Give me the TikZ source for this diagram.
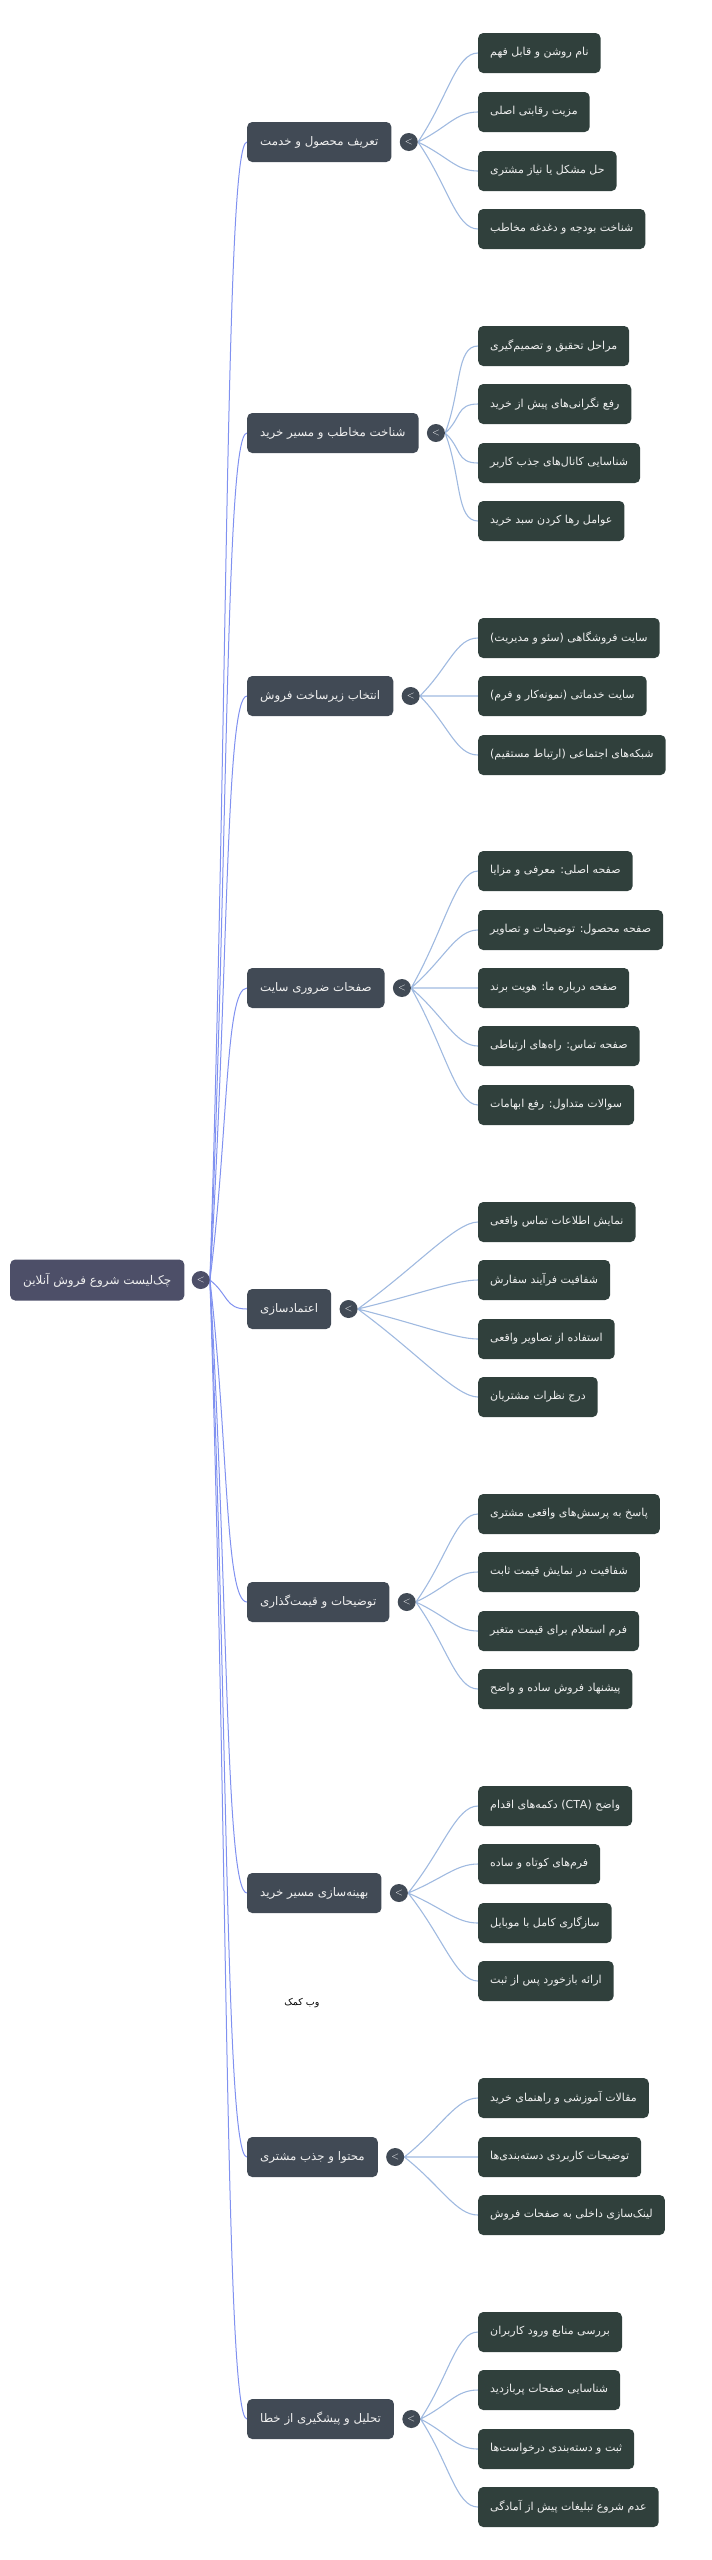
\documentclass[tikz,border=0pt]{standalone}
\usepackage{fontspec}
\usepackage{tikz}
\usetikzlibrary{positioning, calc, backgrounds}
\TeXXeTstate=1
\newfontfamily\fa[Script=Arabic]{DejaVu Sans}
\newcommand{\rl}[1]{\beginR #1\endR}
\definecolor{rootgray}{RGB}{77, 79, 104}
\definecolor{grpgray}{RGB}{65, 74, 85}
\definecolor{itemgreen}{RGB}{48, 64, 60}
\definecolor{rootline}{RGB}{128, 145, 240}
\definecolor{itemline}{RGB}{160, 186, 224}

\begin{document}
\begin{tikzpicture}[x=1pt, y=-1pt, font=\fa\fontsize{11}{13}\selectfont,
    b/.style={rounded corners=5pt, text=white!94!black, inner xsep=12pt, minimum height=40pt, anchor=west},
    top/.style={b, fill=rootgray, minimum height=41pt, inner xsep=13pt, font=\fa\fontsize{12}{14}\selectfont},
    grp/.style={b, fill=grpgray, inner xsep=13pt, font=\fa\fontsize{11.8}{14}\selectfont},
    item/.style={b, fill=itemgreen},
    knob/.style={circle, fill=#1, text=white, inner sep=0pt, minimum size=18pt, font=\sffamily\normalsize},
    curvy/.style={to path={.. controls ($(\tikztostart)!0.5!(\tikztotarget)$) and ($(\tikztotarget)+(-22,0)$) .. (\tikztotarget)}},
    rlink/.style={curvy, draw=rootline, line width=1pt},
    ilink/.style={curvy, draw=itemline, line width=1.1pt}]
  \useasboundingbox (0,0) rectangle (712,2560);
  % root
  \node[top] (root) at (10, 1280) {\rl{چک‌لیست شروع فروش آنلاین}};
  \node[knob=rootgray, right=7pt of root] (kr) {<};
  % groups
  \node[grp] (g1) at (247, 142) {\rl{تعریف محصول و خدمت}};
  \node[grp] (g2) at (247, 433) {\rl{شناخت مخاطب و مسیر خرید}};
  \node[grp] (g3) at (247, 696) {\rl{انتخاب زیرساخت فروش}};
  \node[grp] (g4) at (247, 988) {\rl{صفحات ضروری سایت}};
  \node[grp] (g5) at (247, 1309) {\rl{اعتمادسازی}};
  \node[grp] (g6) at (247, 1602) {\rl{توضیحات و قیمت‌گذاری}};
  \node[grp] (g7) at (247, 1893) {\rl{بهینه‌سازی مسیر خرید}};
  \node[grp] (g8) at (247, 2157) {\rl{محتوا و جذب مشتری}};
  \node[grp] (g9) at (247, 2419) {\rl{تحلیل و پیشگیری از خطا}};
  \foreach \g in {1,...,9}
    \node[knob=grpgray, right=8pt of g\g] (k\g) {<};
  % items
  \node[item] (a1) at (478, 53) {\rl{نام روشن و قابل فهم}};
  \node[item] (a2) at (478, 112) {\rl{مزیت رقابتی اصلی}};
  \node[item] (a3) at (478, 171) {\rl{حل مشکل یا نیاز مشتری}};
  \node[item] (a4) at (478, 229) {\rl{شناخت بودجه و دغدغه مخاطب}};
  \node[item] (b1) at (478, 346) {\rl{مراحل تحقیق و تصمیم‌گیری}};
  \node[item] (b2) at (478, 404) {\rl{رفع نگرانی‌های پیش از خرید}};
  \node[item] (b3) at (478, 463) {\rl{شناسایی کانال‌های جذب کاربر}};
  \node[item] (b4) at (478, 521) {\rl{عوامل رها کردن سبد خرید}};
  \node[item] (c1) at (478, 638) {\rl{سایت فروشگاهی (سئو و مدیریت)}};
  \node[item] (c2) at (478, 696) {\rl{سایت خدماتی (نمونه‌کار و فرم)}};
  \node[item] (c3) at (478, 755) {\rl{شبکه‌های اجتماعی (ارتباط مستقیم)}};
  \node[item] (d1) at (478, 871) {\rl{صفحه اصلی: معرفی و مزایا}};
  \node[item] (d2) at (478, 930) {\rl{صفحه محصول: توضیحات و تصاویر}};
  \node[item] (d3) at (478, 988) {\rl{صفحه درباره ما: هویت برند}};
  \node[item] (d4) at (478, 1046) {\rl{صفحه تماس: راه‌های ارتباطی}};
  \node[item] (d5) at (478, 1105) {\rl{سوالات متداول: رفع ابهامات}};
  \node[item] (e1) at (478, 1222) {\rl{نمایش اطلاعات تماس واقعی}};
  \node[item] (e2) at (478, 1280) {\rl{شفافیت فرآیند سفارش}};
  \node[item] (e3) at (478, 1339) {\rl{استفاده از تصاویر واقعی}};
  \node[item] (e4) at (478, 1397) {\rl{درج نظرات مشتریان}};
  \node[item] (f1) at (478, 1514) {\rl{پاسخ به پرسش‌های واقعی مشتری}};
  \node[item] (f2) at (478, 1572) {\rl{شفافیت در نمایش قیمت ثابت}};
  \node[item] (f3) at (478, 1631) {\rl{فرم استعلام برای قیمت متغیر}};
  \node[item] (f4) at (478, 1689) {\rl{پیشنهاد فروش ساده و واضح}};
  \node[item] (h1) at (478, 1806) {\rl{واضح \beginL(CTA)\endL{} دکمه‌های اقدام}};
  \node[item] (h2) at (478, 1864) {\rl{فرم‌های کوتاه و ساده}};
  \node[item] (h3) at (478, 1923) {\rl{سازگاری کامل با موبایل}};
  \node[item] (h4) at (478, 1981) {\rl{ارائه بازخورد پس از ثبت}};
  \node[item] (m1) at (478, 2098) {\rl{مقالات آموزشی و راهنمای خرید}};
  \node[item] (m2) at (478, 2157) {\rl{توضیحات کاربردی دسته‌بندی‌ها}};
  \node[item] (m3) at (478, 2215) {\rl{لینک‌سازی داخلی به صفحات فروش}};
  \node[item] (n1) at (478, 2332) {\rl{بررسی منابع ورود کاربران}};
  \node[item] (n2) at (478, 2390) {\rl{شناسایی صفحات پربازدید}};
  \node[item] (n3) at (478, 2449) {\rl{ثبت و دسته‌بندی درخواست‌ها}};
  \node[item] (n4) at (478, 2507) {\rl{عدم شروع تبلیغات پیش از آمادگی}};
  \node[font=\fa\fontsize{9.5}{11}\selectfont] (note) at (302, 2003) {\rl{وب کمک}};
  % links
  \begin{scope}[on background layer]
    \foreach \g in {1,...,9}
      \draw[rlink] (kr.east) to (g\g.west);
    \draw[ilink] (k1.east) to (a1.west) (k1.east) to (a2.west) (k1.east) to (a3.west) (k1.east) to (a4.west);
    \draw[ilink] (k2.east) to (b1.west) (k2.east) to (b2.west) (k2.east) to (b3.west) (k2.east) to (b4.west);
    \draw[ilink] (k3.east) to (c1.west) (k3.east) to (c2.west) (k3.east) to (c3.west);
    \draw[ilink] (k4.east) to (d1.west) (k4.east) to (d2.west) (k4.east) to (d3.west) (k4.east) to (d4.west) (k4.east) to (d5.west);
    \draw[ilink] (k5.east) to (e1.west) (k5.east) to (e2.west) (k5.east) to (e3.west) (k5.east) to (e4.west);
    \draw[ilink] (k6.east) to (f1.west) (k6.east) to (f2.west) (k6.east) to (f3.west) (k6.east) to (f4.west);
    \draw[ilink] (k7.east) to (h1.west) (k7.east) to (h2.west) (k7.east) to (h3.west) (k7.east) to (h4.west);
    \draw[ilink] (k8.east) to (m1.west) (k8.east) to (m2.west) (k8.east) to (m3.west);
    \draw[ilink] (k9.east) to (n1.west) (k9.east) to (n2.west) (k9.east) to (n3.west) (k9.east) to (n4.west);
  \end{scope}
\end{tikzpicture}
\end{document}
